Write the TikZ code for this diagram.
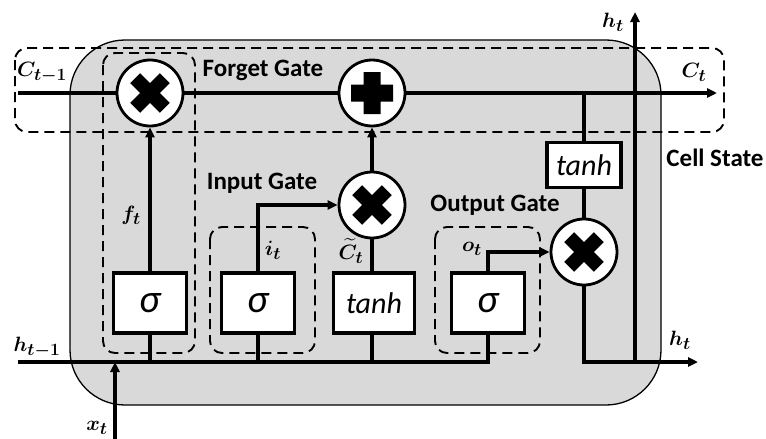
\documentclass[tikz,border=0pt]{standalone}
\usepackage[no-math]{fontspec}
\setmainfont{Carlito}
\usepackage{amsmath}
\usepackage{bm}
\DeclareMathSizes{22}{22}{16.5}{13}
\usetikzlibrary{arrows.meta}
\definecolor{cellgray}{HTML}{D9D9D9}
\newcommand\crossmark[1]{\fill[shift={(#1)},rotate=45] (-21,-7) rectangle (21,7) (-7,-21) rectangle (7,21);}
\newcommand\plusmark[1]{\fill[shift={(#1)}] (-21,-8.5) rectangle (21,8.5) (-8.5,-21) rectangle (8.5,21);}
\begin{document}
\begin{tikzpicture}[x=1pt,y=-1pt,
  wire/.style={line width=3.1pt},
  arr/.style={wire,-{Triangle[length=10pt,width=9pt]}},
  opnode/.style={circle,draw,line width=2.8pt,fill=white,minimum size=66pt,inner sep=0pt},
  gatebox/.style={draw,line width=3.2pt,fill=white,minimum width=73pt,minimum height=60pt,inner sep=0pt,font=\fontsize{40}{42}\selectfont\itshape},
  region/.style={draw,line width=1.9pt,dash pattern=on 10pt off 6pt,rounded corners=12pt},
  gatelbl/.style={font=\fontsize{25}{28}\selectfont\bfseries,inner sep=0pt},
  mlbl/.style={font=\fontsize{22}{26}\selectfont,inner sep=0pt}
]
\useasboundingbox (0,0) rectangle (766,439);
% cell body
\draw[fill=cellgray,line width=1.3pt,rounded corners=55pt] (70,40) rectangle (661,405);
% dashed regions
\draw[region] (15,48) rectangle (724,132);
\draw[region] (103,53) rectangle (195,353);
\draw[region] (210,227) rectangle (315,353);
\draw[region] (435,227) rectangle (540,353);
% coordinates
\coordinate (cin) at (18,93);
\coordinate (cout) at (717,93);
\coordinate (hin) at (18,362);
\coordinate (hout) at (698,362);
\coordinate (hj) at (635,362);
\coordinate (htop) at (635,12);
\coordinate (xin) at (115,439);
\coordinate (xt) at (115,362);
\coordinate (tj) at (584,93);
% nodes
\node[opnode] (fm) at (150,93) {};
\node[opnode] (pl) at (372,93) {};
\node[opnode] (im) at (372,205) {};
\node[opnode] (om) at (584,252) {};
\node[gatebox] (fs) at (150,303) {σ};
\node[gatebox] (is) at (258,303) {σ};
\node[gatebox,minimum width=81pt,font=\fontsize{30}{32}\selectfont\itshape] (tb) at (374,303) {tanh};
\node[gatebox] (os) at (488,303) {σ};
\node[gatebox,minimum width=74pt,minimum height=45pt,font=\fontsize{30}{32}\selectfont\itshape] (ot) at (584,165) {tanh};
% connectors
\draw[wire] (cin) -- (fm.west);
\draw[wire] (fm.east) -- (pl.west);
\draw[arr] (pl.east) -- (cout);
\draw[arr] (fs.north) -- (fm.south);
\draw[wire] (fs.south) -- (fs.south |- hin);
\draw[wire] (hin) -| (os.south);
\draw[wire] (is.south) -- (is.south |- hin);
\draw[wire] (tb.south -| im.south) -- (im.south |- hin);
\draw[arr] (is.north) |- (im.west);
\draw[wire] (tb.north -| im.south) -- (im.south);
\draw[arr] (im.north) -- (pl.south);
\draw[arr] (os.north) |- (om.west);
\draw[wire] (tj) -- (ot.north);
\draw[wire] (ot.south) -- (om.north);
\draw[arr] (om.south) |- (hout);
\draw[arr] (hj) -- (htop);
\draw[arr] (xin) -- (xt);
% operator symbols
\crossmark{fm.center}
\plusmark{pl.center}
\crossmark{im.center}
\crossmark{om.center}
% labels
\node[mlbl] (lcin) at (42,73) {$\bm{C_{t-1}}$};
\node[mlbl] (lcout) at (694,72) {$\bm{C_t}$};
\node[mlbl] (lhtop) at (613,22) {$\bm{h_t}$};
\node[mlbl] (lhout) at (680,340) {$\bm{h_t}$};
\node[mlbl] (lhin) at (37,347) {$\bm{h_{t-1}}$};
\node[mlbl] (lxt) at (97,428) {$\bm{x_t}$};
\node[mlbl] (lft) at (131,215) {$\bm{f_t}$};
\node[mlbl] (lit) at (273,250) {$\bm{i_t}$};
\node[mlbl] (lct) at (351,251) {$\bm{\widetilde{C}_t}$};
\node[mlbl] (lot) at (472,249) {$\bm{o_t}$};
\node[gatelbl] (gforget) at (263,70) {Forget Gate};
\node[gatelbl] (ginput) at (262,183) {Input Gate};
\node[gatelbl] (goutput) at (495,205) {Output Gate};
\node[gatelbl] (gcell) at (715,158) {Cell State};
\end{tikzpicture}
\end{document}
